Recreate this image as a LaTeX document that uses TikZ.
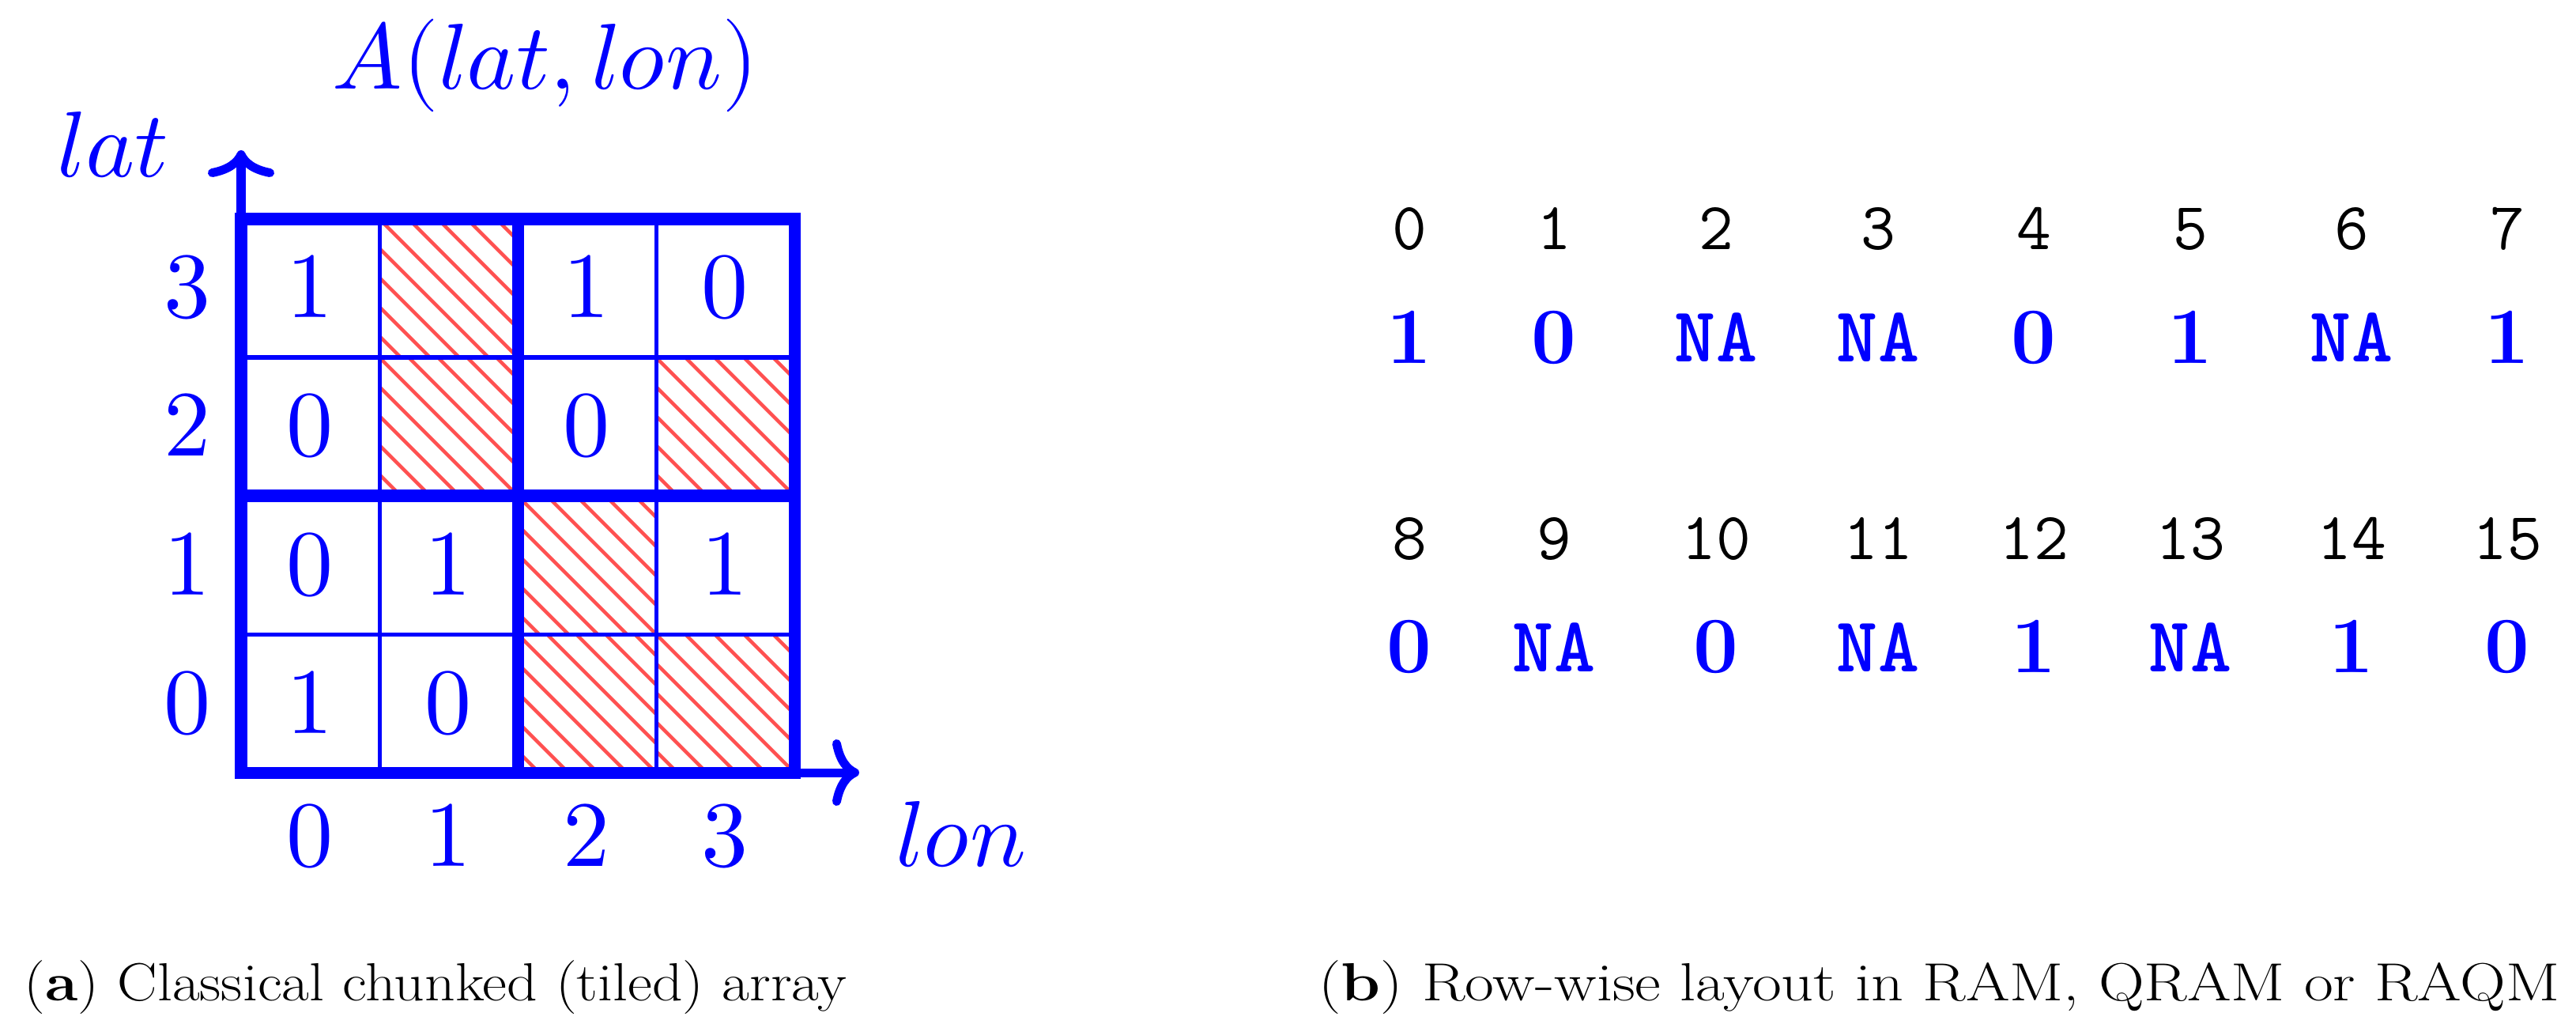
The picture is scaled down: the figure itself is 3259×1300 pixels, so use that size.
\documentclass[tikz,border=0pt]{standalone}
\usepackage{fontspec}
\usepackage{unicode-math}
\usetikzlibrary{arrows.meta}
\definecolor{hatchred}{RGB}{255,80,80}
\newlength\capawidth
\newlength\capbwidth
\begin{document}
\settowidth\capawidth{\fontsize{19.3}{24}\selectfont (\textbf{a}) Classical chunked (tiled) array}%
\settowidth\capbwidth{\fontsize{19.3}{24}\selectfont (\textbf{b}) Row-wise layout in RAM, QRAM or RAQM}%
\pgfmathsetmacro\capafac{(10.40cm)/(\capawidth)}%
\pgfmathsetmacro\capbfac{(15.69cm)/(\capbwidth)}%
\begin{tikzpicture}[x=0.01cm,y=-0.01cm,
  lbl/.style={text=blue,inner sep=0pt,anchor=base,font=\fontsize{33.6}{40}\selectfont},
  idx/.style={text=black,inner sep=0pt,anchor=base,font=\fontsize{24.2}{30}\selectfont\ttfamily},
  val/.style={text=blue,inner sep=0pt,anchor=base,font=\fontsize{28.7}{34}\selectfont\bfseries},
  nav/.style={text=blue,inner sep=0pt,anchor=base,font=\fontsize{28.2}{34}\selectfont\ttfamily\bfseries},
  captext/.style={text=black,inner sep=0pt,font=\fontsize{19.3}{24}\selectfont},
  thickline/.style={draw=blue,line width=0.15cm},
  thinline/.style={draw=blue,line width=0.05cm},
  axisline/.style={draw=blue,line width=0.11cm,-{To[length=0.34cm,width=0.84cm]}},
  hatchline/.style={draw=hatchred,line width=0.045cm}]
\useasboundingbox (0,0) rectangle (3259,1300);
% hatched cells: (col,row from top)
\foreach \c/\r in {1/0,1/1,3/1,2/2,2/3,3/3}{
  \begin{scope}
    \clip ({305+175*\c},{277+175*\r}) rectangle ++(175,175);
    \foreach \k in {-6,...,6}
      \draw[hatchline] ({305+175*\c+37*\k},{277+175*\r}) -- ++(175,175);
  \end{scope}
}
% grid
\coordinate (g00) at (305,277);
\coordinate (g11) at (1005,977);
\draw[thinline] (480,277) -- (480,977) (830,277) -- (830,977)
                (305,452) -- (1005,452) (305,802) -- (1005,802);
\draw[thickline] (655,277) -- (655,977) (305,627) -- (1005,627);
\draw[thickline,line cap=rect] (g00) rectangle (g11);
% axes
\coordinate (latend) at (305,190);
\coordinate (lonstart) at (1005,977);
\coordinate (lonend) at (1087,977);
\draw[axisline] (g00) -- (latend);
\draw[axisline] (lonstart) -- (lonend);
% labels
\node[lbl] (title) at (690,113) {$A(lat,lon)$};
\node[lbl] (lat) at (143,224) {$lat$};
\node[lbl] (lon) at (1216,1095) {$lon$};
\foreach \v [count=\i from 0] in {3,2,1,0}
  \node[lbl] (r\i) at (237,{402+175*\i}) {$\v$};
\foreach \v [count=\i from 0] in {0,1,2,3}
  \node[lbl] (c\i) at ({392+175*\i},1095) {$\v$};
% cell values
\node[lbl] (v30) at (392,402) {$1$};
\node[lbl] (v32) at (742,402) {$1$};
\node[lbl] (v33) at (917,402) {$0$};
\node[lbl] (v20) at (392,577) {$0$};
\node[lbl] (v22) at (742,577) {$0$};
\node[lbl] (v10) at (392,752) {$0$};
\node[lbl] (v11) at (567,752) {$1$};
\node[lbl] (v13) at (917,752) {$1$};
\node[lbl] (v00) at (392,927) {$1$};
\node[lbl] (v01) at (567,927) {$0$};
% row-wise layout (column centres of a tabular)
\def\colx{{1783,1966,2171,2376,2573,2771,2975,3172}}
\foreach \i in {0,...,7}{
  \pgfmathsetmacro\xx{\colx[\i]}
  \node[idx] (i\i) at (\xx,316) {\i};
  \pgfmathtruncatemacro\j{\i+8}
  \node[idx] (i\j) at (\xx,707) {\j};
}
\node[val] (a0) at (1783,459) {1};
\node[val] (a1) at (1966,459) {0};
\node[nav] (a2) at (2171,458) {NA};
\node[nav] (a3) at (2376,458) {NA};
\node[val] (a4) at (2573,459) {0};
\node[val] (a5) at (2771,459) {1};
\node[nav] (a6) at (2975,458) {NA};
\node[val] (a7) at (3172,459) {1};
\node[val] (a8) at (1783,850) {0};
\node[nav] (a9) at (1966,849) {NA};
\node[val] (a10) at (2171,850) {0};
\node[nav] (a11) at (2376,849) {NA};
\node[val] (a12) at (2573,850) {1};
\node[nav] (a13) at (2771,849) {NA};
\node[val] (a14) at (2975,850) {1};
\node[val] (a15) at (3172,850) {0};
% captions
\node[captext,anchor=base west] (capa) at (30,1265) {\scalebox{\capafac}[1]{(\textbf{a}) Classical chunked (tiled) array}};
\node[captext,anchor=base east] (capb) at (3239,1265) {\scalebox{\capbfac}[1]{(\textbf{b}) Row-wise layout in RAM, QRAM or RAQM}};
\end{tikzpicture}
\end{document}
